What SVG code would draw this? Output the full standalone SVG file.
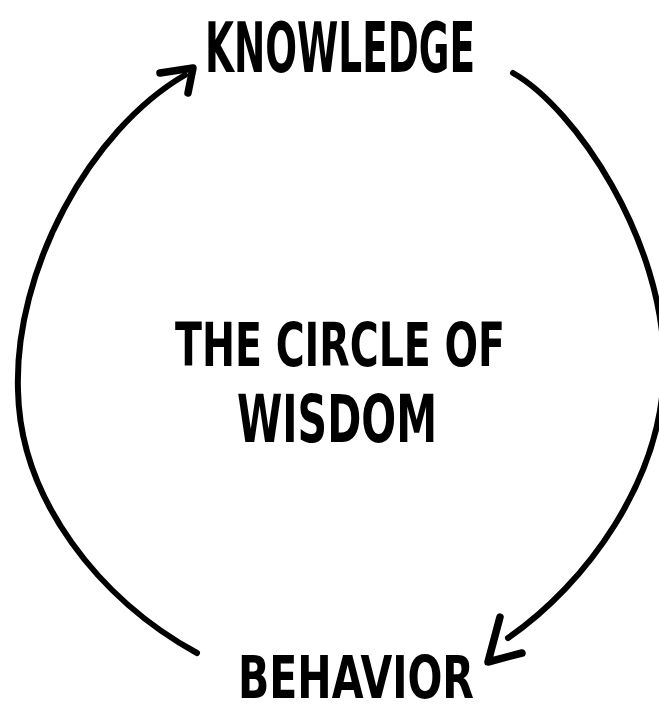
<svg xmlns="http://www.w3.org/2000/svg" width="659" height="714" viewBox="0 0 659 714">
  <style>
    .arc { fill: none; stroke: #000; stroke-width: 6; stroke-linecap: round; stroke-linejoin: round; }
    .head { fill: none; stroke: #000; stroke-width: 7.5; stroke-linecap: round; stroke-linejoin: round; }
    .lbl { font-family: "DejaVu Sans Condensed", "DejaVu Sans", sans-serif; font-weight: bold; fill: #000; }
  </style>
  <rect width="659" height="714" fill="#fff"/>
  <g id="connectors">
    <g id="behavior-to-knowledge">
      <path class="arc" d="M197,653 C100,600 20,500 18,390 C14,270 90,130 185,75"/>
      <path class="head" d="M160,73 L193,68 L188,93"/>
    </g>
    <g id="knowledge-to-behavior">
      <path class="arc" d="M513,73 C575,108 664,240 664,365 C664,480 585,585 508,638"/>
      <path class="head" d="M500,617 L488,662 L522,653"/>
    </g>
  </g>
  <g id="knowledge">
    <text class="lbl" x="205" y="72" font-size="70" textLength="270" lengthAdjust="spacingAndGlyphs">KNOWLEDGE</text>
  </g>
  <g id="behavior">
    <text class="lbl" x="238" y="698" font-size="58" textLength="236" lengthAdjust="spacingAndGlyphs">BEHAVIOR</text>
  </g>
  <g id="title">
    <text class="lbl" x="175" y="366" font-size="60" textLength="330" lengthAdjust="spacingAndGlyphs">THE CIRCLE OF</text>
    <text class="lbl" x="237" y="442" font-size="66" textLength="200" lengthAdjust="spacingAndGlyphs">WISDOM</text>
  </g>
</svg>
